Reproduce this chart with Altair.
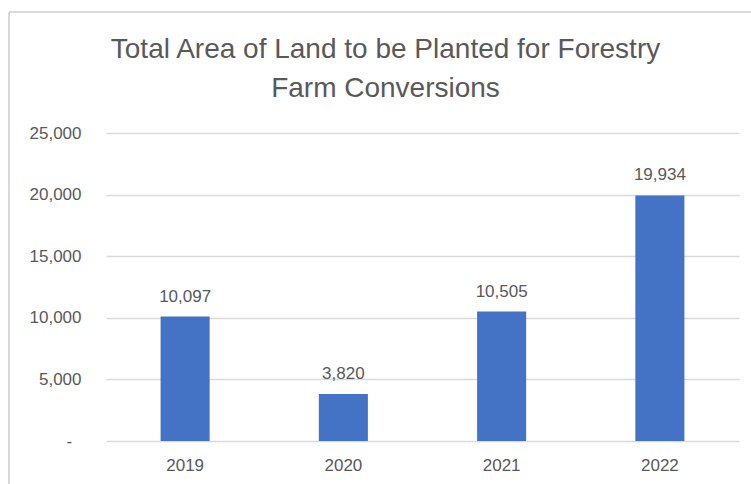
import altair as alt
import pandas as pd

years = ["2019", "2020", "2021", "2022"]
areas = [10097, 3820, 10505, 19934]
title_lines = ["Total Area of Land to be Planted for Forestry", "Farm Conversions"]

df = pd.DataFrame({"year": years, "area": areas})

FONT = "Liberation Sans"
GREY = "#595959"

x = alt.X("year:N", sort=years, title=None,
          scale=alt.Scale(paddingInner=0.69, paddingOuter=0.345),
          axis=alt.Axis(labelAngle=0, labelFont=FONT, labelFontSize=17, labelColor=GREY,
                        labelPadding=16, domain=False, ticks=False, grid=False))
y = alt.Y("area:Q", title=None,
          scale=alt.Scale(domain=[0, 25000], nice=False),
          axis=alt.Axis(values=[0, 5000, 10000, 15000, 20000, 25000],
                        labelExpr="datum.value == 0 ? '-\u2007\u200b' : format(datum.value, ',')",
                        labelFont=FONT, labelFontSize=17, labelColor=GREY, labelPadding=25,
                        domain=False, ticks=False, grid=True, gridColor="#d9d9d9", gridWidth=1.3))

base = alt.Chart(df)
bars = base.mark_bar(color="#4472C4").encode(x=x, y=y)
labels = base.mark_text(font=FONT, fontSize=17, color=GREY, baseline="alphabetic", dy=-15).encode(
    x=alt.X("year:N", sort=years), y="area:Q", text=alt.Text("area:Q", format=","))

border_top = alt.Chart(df).mark_rule(color="#d9d9d9", strokeWidth=1.5).encode(
    x=alt.value(-97), x2=alt.value(660), y=alt.value(-121))
border_left = alt.Chart(df).mark_rule(color="#d9d9d9", strokeWidth=1.5).encode(
    x=alt.value(-97), y=alt.value(-121), y2=alt.value(360))

chart = alt.layer(bars, labels, border_top, border_left).properties(
    width=633, height=308,
    autosize=alt.AutoSizeParams(type="none"),
    padding={"left": 106, "top": 133, "right": 12, "bottom": 43},
    title=alt.TitleParams(text=title_lines, font=FONT, fontSize=28, fontWeight="normal",
                          color=GREY, lineHeight=39, anchor="middle", dx=-37, offset=-92),
).configure(background="white").configure_view(strokeWidth=0, stroke="transparent")

chart.save("out.html", embed_options={"renderer": "svg", "actions": False})
